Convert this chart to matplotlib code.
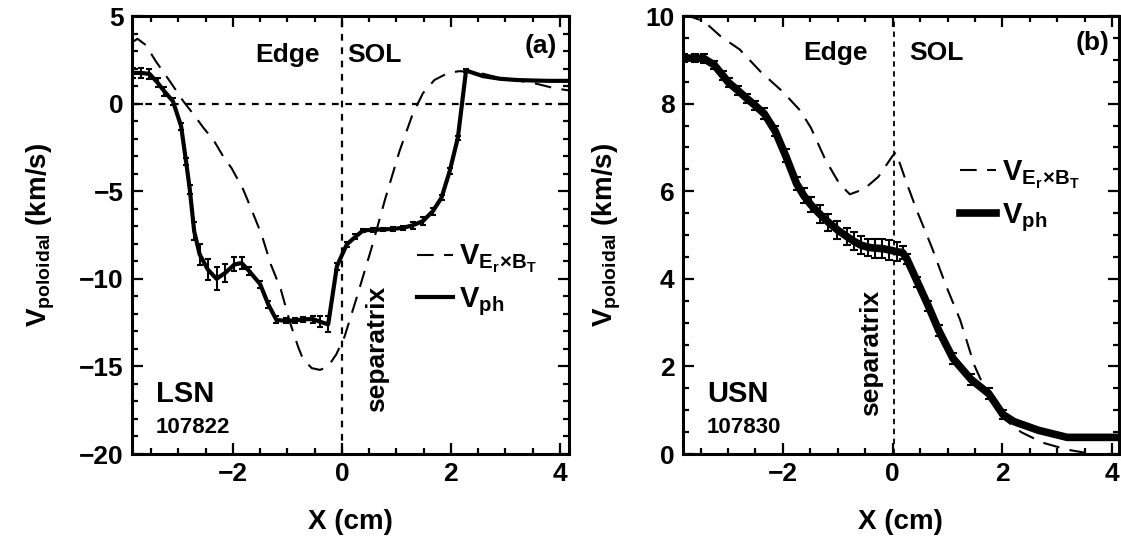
import numpy as np
import matplotlib
matplotlib.use("Agg")
import matplotlib.pyplot as plt

FONT = ['Liberation Sans Narrow', 'Liberation Sans', 'DejaVu Sans']
plt.rcParams['font.family'] = FONT
plt.rcParams['font.weight'] = 'bold'
plt.rcParams['mathtext.fontset'] = 'custom'
plt.rcParams['mathtext.rm'] = 'Liberation Sans:bold'
plt.rcParams['mathtext.it'] = 'Liberation Sans:bold'
plt.rcParams['mathtext.bf'] = 'Liberation Sans:bold'
plt.rcParams['mathtext.default'] = 'rm'

# ---------------- data: panel (a) LSN 107822 ----------------
x_ph_a = [-3.83, -3.68, -3.53, -3.38, -3.26, -3.10, -2.95, -2.86, -2.79, -2.71,
          -2.61, -2.46, -2.30, -2.14, -1.97, -1.84, -1.70, -1.50, -1.35, -1.20,
          -1.02, -0.86, -0.71, -0.53, -0.40, -0.25, -0.09, 0.09, 0.25, 0.39,
          0.57, 0.76, 0.94, 1.12, 1.30, 1.49, 1.67, 1.83, 1.98, 2.13,
          2.28, 2.59, 2.90, 3.20, 3.50, 3.81, 4.17]
v_ph_a = [1.75, 1.75, 1.7, 1.19, 0.71, 0.14, -1.28, -3.28, -4.9, -7.28,
          -8.6, -9.47, -10.0, -9.66, -9.18, -9.1, -9.56, -10.3, -11.46, -12.35,
          -12.4, -12.38, -12.31, -12.3, -12.45, -12.6, -9.28, -8.04, -7.6, -7.24,
          -7.2, -7.18, -7.15, -7.09, -6.95, -6.7, -6.14, -5.37, -3.85, -1.95,
          1.89, 1.57, 1.42, 1.35, 1.32, 1.3, 1.3]
err_a = [0.3, 0.3, 0.3, 0.25, 0.25, 0.2, 0.2, 0.2, 0.25, 0.5,
         0.6, 0.6, 0.65, 0.5, 0.4, 0.35, 0.25, 0.2, 0.2, 0.2,
         0.15, 0.15, 0.15, 0.2, 0.3, 0.45, 0.2, 0.15, 0.15, 0.1,
         0.1, 0.1, 0.1, 0.1, 0.2, 0.2, 0.2, 0.15, 0.15, 0.1,
         0.1, 0, 0, 0, 0, 0, 0]
x_exb_a = [-3.85, -3.75, -3.60, -3.41, -3.15, -2.91, -2.70, -2.54, -2.35, -2.18,
           -2.02, -1.81, -1.69, -1.47, -1.30, -1.12, -0.95, -0.80, -0.71, -0.55,
           -0.40, -0.25, -0.10, 0.05, 0.28, 0.54, 0.80, 1.06, 1.30, 1.49,
           1.70, 1.95, 2.15, 2.34, 2.60, 2.89, 3.20, 3.50, 3.90, 4.17]
v_exb_a = [3.5, 3.7, 3.35, 2.4, 1.25, 0.14, -0.7, -1.38, -2.1, -3.0,
           -3.7, -4.9, -5.8, -7.5, -9.2, -10.6, -12.5, -13.9, -14.6, -15.1,
           -15.2, -15.0, -14.3, -13.3, -11.0, -8.3, -5.4, -2.7, -0.6, 0.6,
           1.35, 1.75, 1.85, 1.83, 1.7, 1.47, 1.33, 1.19, 0.88, 0.75]

# ---------------- data: panel (b) USN 107830 ----------------
x_ph_b = [-3.80, -3.60, -3.44, -3.25, -3.10, -2.99, -2.82, -2.66, -2.50, -2.34,
          -2.14, -1.95, -1.75, -1.62, -1.49, -1.33, -1.17, -1.01, -0.84, -0.71,
          -0.58, -0.45, -0.32, -0.19, -0.06, 0.07, 0.18, 0.26, 0.45, 0.65,
          0.84, 1.10, 1.43, 1.75, 2.01, 2.21, 2.66, 3.18, 3.60, 4.12]
v_ph_b = [9.04, 9.04, 9.03, 8.88, 8.65, 8.48, 8.30, 8.12, 7.95, 7.77,
          7.37, 6.81, 6.17, 5.9, 5.69, 5.48, 5.29, 5.12, 4.97, 4.86,
          4.77, 4.72, 4.70, 4.69, 4.66, 4.62, 4.60, 4.45, 3.93, 3.38,
          2.82, 2.18, 1.70, 1.38, 0.90, 0.74, 0.54, 0.38, 0.38, 0.38]
err_b = [0.1, 0.1, 0.1, 0.1, 0.1, 0.1, 0.1, 0.1, 0.1, 0.12,
         0.12, 0.15, 0.15, 0.17, 0.17, 0.2, 0.2, 0.2, 0.2, 0.2,
         0.2, 0.2, 0.22, 0.22, 0.22, 0.22, 0.15, 0.12, 0.12, 0.12,
         0.12, 0.12, 0.12, 0.12, 0.1, 0, 0, 0, 0, 0]
x_exb_b = [-3.80, -3.44, -3.12, -2.79, -2.40, -2.01, -1.69, -1.49, -1.23, -0.97,
           -0.78, -0.52, -0.26, 0.0, 0.06, 0.26, 0.45, 0.71, 0.97, 1.23,
           1.49, 1.75, 2.01, 2.34, 2.73, 3.18, 3.64, 4.12]
v_exb_b = [10.04, 9.88, 9.52, 9.24, 8.72, 8.28, 7.85, 7.45, 6.73, 6.17,
           5.93, 6.05, 6.33, 6.81, 6.89, 6.17, 5.53, 4.73, 3.85, 3.06,
           2.02, 1.30, 0.82, 0.50, 0.26, 0.10, 0.0, -0.1]

fig = plt.figure(figsize=(11.21, 5.47), dpi=100)
axA = fig.add_axes([0.1178, 0.170, 0.3898, 0.8007])
axB = fig.add_axes([0.6093, 0.170, 0.3887, 0.8007])

TICK_FS = 19
LAB_FS = 20
TXT_FS = 19


def minus(v, p):
    return f"{v:g}".replace('-', '\u2212')


def style(ax, xlim, ylim, ymaj, ymin):
    ax.set_xlim(*xlim)
    ax.set_ylim(*ylim)
    ax.set_xticks([-2, 0, 2, 4])
    ax.set_xticks(np.arange(-3.5, 4.3, 0.5), minor=True)
    ax.set_yticks(np.arange(ylim[0], ylim[1] + 0.01, ymaj))
    ax.set_yticks(np.arange(ylim[0], ylim[1] + 0.01, ymin), minor=True)
    ax.tick_params(which='both', direction='in', top=True, right=True,
                   labelsize=TICK_FS, width=1.6, pad=6)
    ax.tick_params(which='major', length=8)
    ax.tick_params(which='minor', length=4)
    for s in ax.spines.values():
        s.set_linewidth(2.2)
    ax.xaxis.set_major_formatter(matplotlib.ticker.FuncFormatter(minus))
    ax.yaxis.set_major_formatter(matplotlib.ticker.FuncFormatter(minus))
    ax.set_xlabel('X (cm)', fontsize=LAB_FS, fontweight='bold', labelpad=16)
    ax.set_ylabel(r'$V_{poloidal}$ (km/s)', fontsize=LAB_FS, fontweight='bold',
                  labelpad=16)


lbl_exb = r'$V_{E_r\!\times\! B_T}$'
lbl_ph = r'$V_{ph}$'
DASH = (0, (8, 5))
LEG = dict(frameon=False, fontsize=21, handlelength=1.25, handletextpad=0.2,
           labelspacing=0.35, borderaxespad=0, borderpad=0, loc='center left')

# ---- panel (a)
axA.axhline(0, color='k', lw=1.6, ls=(0, (3, 3)))
axA.axvline(0, color='k', lw=1.6, ls=(0, (3, 3)))
axA.plot(x_exb_a, v_exb_a, color='k', lw=1.5, ls=DASH, label=lbl_exb)
axA.plot(x_ph_a, v_ph_a, color='k', lw=3.0, label=lbl_ph, solid_joinstyle='round')
ea = np.array(err_a)
m = ea > 0
axA.errorbar(np.array(x_ph_a)[m], np.array(v_ph_a)[m], yerr=ea[m], fmt='none',
             ecolor='k', elinewidth=1.5, capsize=2.5, capthick=1.5)
style(axA, (-3.85, 4.17), (-20, 5), 5, 1)
axA.text(-0.4, 2.37, 'Edge', ha='right', va='baseline', fontsize=TXT_FS, fontweight='bold')
axA.text(0.1, 2.37, 'SOL', ha='left', va='baseline', fontsize=TXT_FS, fontweight='bold')
axA.text(0.973, 0.932, '(a)', transform=axA.transAxes, ha='right', va='center',
         fontsize=TXT_FS, fontweight='bold')
axA.text(0.65, -14.0, 'separatrix', rotation=90, ha='center', va='center',
         fontsize=TXT_FS, fontweight='bold')
axA.text(0.055, 0.119, 'LSN', transform=axA.transAxes, ha='left', va='baseline',
         fontsize=21, fontweight='bold')
axA.text(0.055, 0.048, '107822', transform=axA.transAxes, ha='left', va='baseline',
         fontsize=16, fontweight='bold')
axA.legend(bbox_to_anchor=(0.652, 0.396), **LEG)

# ---- panel (b)
axB.axvline(0.03, color='k', lw=1.3, ls=(0, (3, 2.5)))
axB.plot(x_exb_b, v_exb_b, color='k', lw=1.5, ls=DASH, label=lbl_exb)
axB.plot(x_ph_b, v_ph_b, color='k', lw=5.5, label=lbl_ph, solid_joinstyle='round')
eb = np.array(err_b)
m = eb > 0
axB.errorbar(np.array(x_ph_b)[m], np.array(v_ph_b)[m], yerr=eb[m], fmt='none',
             ecolor='k', elinewidth=1.5, capsize=3, capthick=1.5)
style(axB, (-3.82, 4.12), (0, 10), 2, 0.5)
axB.text(-0.45, 9.0, 'Edge', ha='right', va='baseline', fontsize=TXT_FS, fontweight='bold')
axB.text(0.3, 9.0, 'SOL', ha='left', va='baseline', fontsize=TXT_FS, fontweight='bold')
axB.text(0.979, 0.938, '(b)', transform=axB.transAxes, ha='right', va='center',
         fontsize=TXT_FS, fontweight='bold')
axB.text(-0.4, 2.3, 'separatrix', rotation=90, ha='center', va='center',
         fontsize=TXT_FS, fontweight='bold')
axB.text(0.055, 0.119, 'USN', transform=axB.transAxes, ha='left', va='baseline',
         fontsize=21, fontweight='bold')
axB.text(0.055, 0.048, '107830', transform=axB.transAxes, ha='left', va='baseline',
         fontsize=16, fontweight='bold')
axB.legend(bbox_to_anchor=(0.635, 0.589), **LEG)

fig.savefig('out.png', dpi=100)
